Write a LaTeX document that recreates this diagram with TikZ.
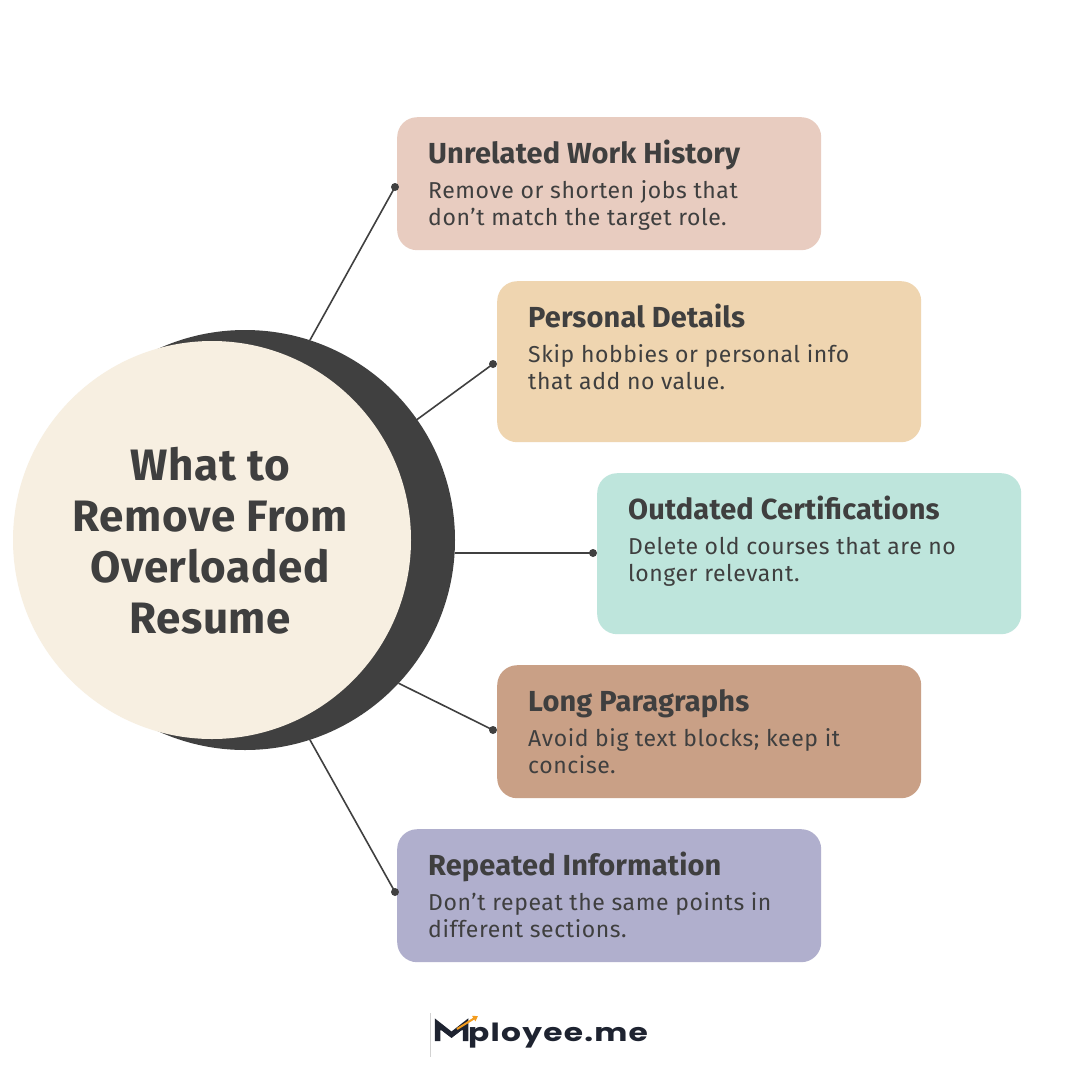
\documentclass[tikz,border=0pt]{standalone}
\usepackage{fontspec}
\setmainfont{Fira Sans}
\newfontfamily\descfont[LetterSpace=2.5]{Fira Sans}
\newfontfamily\headfont[LetterSpace=0.5]{Fira Sans}
\newfontfamily\circfont[LetterSpace=1.5]{Fira Sans}
\newfontfamily\logofont[FakeStretch=1.25,LetterSpace=5]{Poppins}
\usetikzlibrary{calc,arrows.meta}
\definecolor{ink}{HTML}{3F3F3F}
\definecolor{darkc}{HTML}{404040}
\definecolor{lightc}{HTML}{F7EFE1}
\definecolor{cA}{HTML}{E8CCC0}
\definecolor{cB}{HTML}{EFD5B0}
\definecolor{cC}{HTML}{BEE5DC}
\definecolor{cD}{HTML}{C9A086}
\definecolor{cE}{HTML}{B0AFCD}
\definecolor{logoc}{HTML}{1E2330}
\definecolor{orng}{HTML}{F39C1E}
\tikzset{
  boxst/.style={rounded corners=20pt, minimum width=424pt, inner sep=0pt, draw=none},
  titlest/.style={font=\headfont\fontsize{29}{32}\selectfont\bfseries, text=ink, inner sep=0pt},
  descst/.style={font=\descfont\fontsize{23}{27}\selectfont, text=ink, inner sep=0pt},
  conn/.style={draw=darkc, line width=1.6pt},
  dotst/.style={fill=darkc, circle, inner sep=0pt, minimum size=8pt}
}
\newcommand{\itembox}[8]{%
  \node[boxst, fill=#5, minimum height=#4pt, anchor=north west] (#1) at (#2,#3) {};
  \node[titlest, anchor=base west] (#1t) at ($(#1.north west)+(31,46)$) {#6};
  \node[descst, anchor=base west] (#1a) at ($(#1.north west)+(31,81)$) {#7};
  \node[descst, anchor=base west] (#1b) at ($(#1.north west)+(31,108)$) {#8};
}
\begin{document}
\begin{tikzpicture}[x=1pt,y=-1pt]
\useasboundingbox (0,0) rectangle (1080,1080);
\fill[white] (0,0) rectangle (1080,1080);

% boxes
\itembox{b1}{397}{117}{133}{cA}{Unrelated Work History}{Remove or shorten jobs that}{don’t match the target role.}
\itembox{b2}{497}{281}{161}{cB}{Personal Details}{Skip hobbies or personal info}{that add no value.}
\itembox{b3}{597}{473}{161}{cC}{Outdated Certifications}{Delete old courses that are no}{longer relevant.}
\itembox{b4}{497}{665}{133}{cD}{Long Paragraphs}{Avoid big text blocks; keep it}{concise.}
\itembox{b5}{397}{829}{133}{cE}{Repeated Information}{Don’t repeat the same points in}{different sections.}

% circles
\node[circle, fill=darkc, minimum size=420pt, inner sep=0pt, outer sep=0pt] (dark) at (245,540) {};
\node[circle, fill=lightc, minimum size=398pt, inner sep=0pt] (light) at (212,540) {};
\node[font=\circfont\fontsize{44}{51}\selectfont\bfseries, text=ink, align=center, inner sep=0pt] (title) at (210,541)
  {What to\\Remove From\\Overloaded\\Resume};

% connector dots
\node[dotst] (d1) at (395,187) {};
\node[dotst] (d2) at (493,364) {};
\node[dotst] (d3) at (593,553) {};
\node[dotst] (d4) at (493,730) {};
\node[dotst] (d5) at (395,892) {};

% connectors
\draw[conn] (dark.72.8) -- (d1.center);
\draw[conn] (dark.35.5) -- (d2.center);
\draw[conn] (d3.center -| dark.east) -- (d3.center);
\draw[conn] (dark.-43.8) -- (d4.center);
\draw[conn] (dark.-72.8) -- (d5.center);

% logo
\draw[gray!35, line width=1pt] (430,1013) -- (430,1057);
\draw[logoc, line width=5.5pt, line join=miter] (437.5,1041) -- (437.5,1024) -- (451.5,1035) -- (465.5,1024) -- (465.5,1041);
\draw[white, line width=1.2pt] (441,1031) -- (451.5,1039) -- (462,1031);
\draw[orng, line width=2pt, -{Triangle[length=5pt,width=6pt]}] (457,1029) -- (478,1016);
\node[font=\logofont\fontsize{25}{26}\selectfont\bfseries, text=logoc, anchor=base west, inner sep=0pt] (logo) at (468,1041) {ployee.me};
\end{tikzpicture}
\end{document}
